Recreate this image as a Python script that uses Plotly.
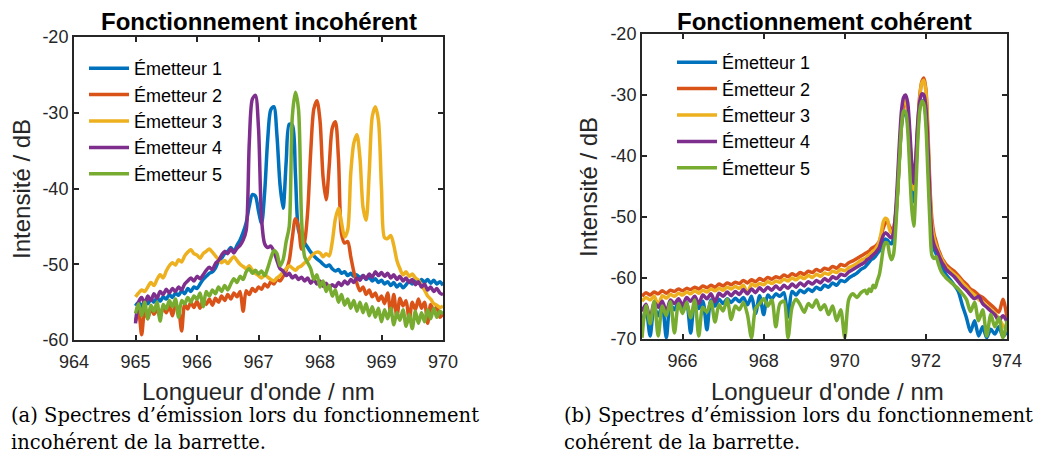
import plotly.graph_objects as go

# ---------------- data: incoherent operation (panel a) ----------------
WL_A = [965.00, 965.05, 965.10, 965.15, 965.20, 965.25, 965.30, 965.35, 965.40, 965.45,
        965.50, 965.55, 965.60, 965.65, 965.70, 965.75, 965.80, 965.85, 965.90, 965.95,
        966.00, 966.05, 966.10, 966.15, 966.20, 966.25, 966.30, 966.35, 966.40, 966.45,
        966.50, 966.55, 966.60, 966.65, 966.70, 966.75, 966.80, 966.85, 966.90, 966.95,
        967.00, 967.05, 967.10, 967.15, 967.20, 967.25, 967.30, 967.35, 967.40, 967.45,
        967.50, 967.55, 967.60, 967.65, 967.70, 967.75, 967.80, 967.85, 967.90, 967.95,
        968.00, 968.05, 968.10, 968.15, 968.20, 968.25, 968.30, 968.35, 968.40, 968.45,
        968.50, 968.55, 968.60, 968.65, 968.70, 968.75, 968.80, 968.85, 968.90, 968.95,
        969.00, 969.05, 969.10, 969.15, 969.20, 969.25, 969.30, 969.35, 969.40, 969.45,
        969.50, 969.55, 969.60, 969.65, 969.70, 969.75, 969.80, 969.85, 969.90, 969.95,
        970.00]

A_E1 = [-55.5, -55.0, -55.6, -54.8, -55.2, -54.6, -55.0, -54.4, -54.9, -54.3,
        -54.6, -54.0, -54.4, -53.8, -54.1, -53.5, -53.9, -53.2, -53.6, -53.0,
        -53.2, -52.6, -52.0, -51.6, -51.2, -51.0, -50.5, -49.6, -49.2, -48.6,
        -48.3, -47.8, -48.3, -47.5, -46.8, -45.8, -44.5, -42.3, -40.8, -41.0,
        -43.0, -44.6, -40.5, -33.5, -29.6, -29.2, -33.0, -39.5, -42.6, -36.5,
        -31.5, -31.6, -38.0, -45.5, -46.5, -47.2, -47.8, -48.4, -48.9, -49.3,
        -49.6, -50.0, -50.3, -50.1, -50.6, -50.9, -50.7, -51.2, -51.0, -51.5,
        -51.2, -51.6, -51.4, -51.8, -51.5, -52.0, -51.7, -52.2, -51.9, -52.4,
        -52.1, -52.6, -52.3, -52.8, -52.4, -53.0, -52.6, -53.1, -52.7, -52.2,
        -52.6, -52.1, -52.5, -52.0, -52.4, -52.0, -52.5, -52.1, -52.6, -52.3,
        -52.8]

A_E2 = [-57.5, -56.2, -59.3, -56.0, -57.2, -55.8, -56.6, -55.9, -57.0, -55.6,
        -56.4, -55.5, -56.8, -55.4, -56.0, -58.8, -55.3, -55.9, -55.0, -55.7,
        -54.9, -55.8, -54.7, -55.3, -54.6, -55.4, -54.5, -55.0, -54.2, -54.8,
        -54.0, -54.6, -53.8, -54.3, -53.6, -56.2, -53.5, -54.0, -53.2, -53.6,
        -53.0, -53.3, -52.6, -53.0, -52.3, -52.6, -52.0, -52.2, -51.6, -50.8,
        -49.5, -46.5, -44.0, -45.0, -48.0, -47.0, -43.0, -35.0, -29.5, -28.4,
        -31.0, -38.5, -41.5, -37.0, -32.0, -31.2, -36.0, -46.0, -47.2, -47.0,
        -49.0, -51.0, -52.5, -53.5, -53.0, -54.0, -53.4, -54.3, -53.8, -54.8,
        -54.2, -55.2, -53.8, -56.5, -54.0, -57.0, -54.5, -55.5, -54.8, -57.5,
        -55.0, -56.0, -54.6, -55.8, -55.0, -57.8, -55.3, -56.2, -55.6, -57.0,
        -56.5]

A_E3 = [-54.3, -53.8, -53.4, -53.6, -53.0, -52.4, -52.8, -52.0, -51.4, -51.8,
        -50.9, -50.2, -49.8, -50.1, -49.4, -49.7, -48.9, -48.4, -48.1, -48.6,
        -48.8, -49.2, -48.6, -48.3, -48.0, -48.4, -48.9, -49.4, -49.8, -49.5,
        -49.9, -49.4, -49.0, -49.5, -50.0, -50.3, -50.6, -50.2, -50.8, -51.2,
        -51.5, -51.8, -51.4, -51.7, -52.0, -52.2, -51.8, -51.5, -51.0, -50.6,
        -50.2, -50.5, -50.8, -50.4, -50.2, -49.8, -49.5, -49.0, -48.6, -48.4,
        -48.5, -49.0, -48.6, -48.9, -47.0, -44.0, -42.6, -44.5, -46.4, -45.5,
        -38.0, -34.0, -32.9, -36.0, -42.5, -44.2, -38.0, -30.5, -29.2, -31.0,
        -40.0, -46.5, -46.6, -46.2, -47.5, -49.5, -50.6, -51.4, -51.0, -51.6,
        -51.3, -51.8, -52.1, -52.8, -53.4, -54.2, -54.6, -55.2, -55.4, -55.7,
        -55.5]

A_E4 = [-57.8, -55.0, -54.4, -55.2, -54.2, -54.8, -53.9, -54.5, -53.6, -54.0,
        -53.3, -53.8, -53.2, -53.6, -53.0, -53.4, -52.6, -52.2, -51.8, -52.2,
        -51.6, -51.9, -51.4, -50.8, -50.4, -50.7, -49.9, -49.5, -48.8, -48.3,
        -48.6, -48.0, -48.5, -47.9, -47.5, -46.8, -45.5, -34.0, -28.2, -27.7,
        -32.0, -44.0, -47.3, -47.8, -47.6, -48.3, -49.5, -50.6, -50.9, -51.5,
        -51.2, -51.8, -51.5, -52.0, -51.7, -52.2, -51.8, -52.5, -52.0, -52.6,
        -52.2, -52.9, -52.5, -53.1, -52.7, -53.0, -52.4, -52.8, -52.2, -52.6,
        -52.0, -52.4, -51.8, -52.1, -51.5, -51.9, -51.3, -51.7, -51.0, -51.5,
        -51.1, -51.6, -51.2, -51.8, -51.4, -52.0, -51.6, -52.2, -51.8, -52.4,
        -52.0, -52.7, -52.3, -53.0, -52.6, -53.4, -53.0, -53.6, -53.2, -53.8,
        -54.0]

A_E5 = [-56.5, -55.2, -56.8, -55.0, -57.2, -55.4, -56.2, -55.0, -57.5, -55.3,
        -55.9, -54.8, -55.6, -54.6, -57.0, -54.8, -55.2, -54.4, -55.0, -54.2,
        -54.6, -53.8, -55.6, -53.6, -54.2, -53.4, -53.9, -53.0, -53.6, -52.8,
        -53.4, -52.6, -51.9, -52.4, -51.6, -52.0, -51.0, -50.6, -51.2, -50.8,
        -51.3, -50.9, -51.5, -50.5, -49.2, -48.2, -48.6, -50.2, -49.4, -47.0,
        -45.0, -30.5, -27.3, -29.5, -44.0, -49.0, -49.8, -50.6, -52.0, -51.4,
        -53.0, -52.2, -53.6, -52.8, -54.2, -53.4, -55.0, -54.0, -55.4, -54.6,
        -55.8, -54.8, -56.2, -55.0, -56.4, -55.2, -56.8, -55.6, -57.0, -55.8,
        -57.6, -56.0, -57.2, -55.8, -58.0, -56.4, -57.4, -56.0, -58.2, -56.6,
        -58.5, -56.2, -57.8, -56.4, -57.6, -56.0, -57.2, -55.8, -57.0, -56.2,
        -56.6]

# ---------------- data: coherent operation (panel b) ----------------
WL_B = [965.0, 965.1, 965.2, 965.3, 965.4, 965.5, 965.6, 965.7, 965.8, 965.9,
        966.0, 966.1, 966.2, 966.3, 966.4, 966.5, 966.6, 966.7, 966.8, 966.9,
        967.0, 967.1, 967.2, 967.3, 967.4, 967.5, 967.6, 967.7, 967.8, 967.9,
        968.0, 968.1, 968.2, 968.3, 968.4, 968.5, 968.6, 968.7, 968.8, 968.9,
        969.0, 969.1, 969.2, 969.3, 969.4, 969.5, 969.6, 969.7, 969.8, 969.9,
        970.0, 970.1, 970.2, 970.3, 970.4,
        970.50, 970.55, 970.60, 970.65, 970.70, 970.75, 970.80, 970.85, 970.90, 970.95,
        971.00, 971.05, 971.10, 971.15, 971.20, 971.25, 971.30, 971.35, 971.40, 971.45,
        971.50, 971.55, 971.60, 971.65, 971.70, 971.75, 971.80, 971.85, 971.90, 971.95,
        972.00, 972.05, 972.10, 972.15, 972.20, 972.25, 972.30, 972.35, 972.40, 972.45,
        972.5, 972.6, 972.7, 972.8, 972.9, 973.0, 973.1, 973.2, 973.3, 973.4,
        973.5, 973.6, 973.7, 973.8, 973.9, 974.0]

B_E1 = [-68.0, -65.0, -69.5, -64.8, -66.2, -64.5, -69.8, -64.4, -65.2, -64.0,
        -65.5, -64.0, -69.0, -64.0, -65.0, -63.8, -68.5, -63.6, -64.6, -63.5,
        -64.2, -63.4, -64.0, -63.3, -63.9, -63.2, -64.4, -63.0, -65.8, -62.9,
        -66.0, -62.8, -63.4, -62.6, -63.0, -62.4, -66.4, -62.2, -62.8, -62.0,
        -62.4, -61.8, -62.2, -61.5, -61.9, -61.2, -61.5, -60.8, -61.2, -60.4,
        -60.6, -60.0, -59.6, -59.2, -58.6,
        -58.2, -57.8, -57.4, -57.0, -56.8, -56.5, -56.0, -55.6, -54.8, -54.0,
        -53.6, -53.8, -54.2, -54.4, -53.6, -51.0, -46.0, -40.0, -35.0, -33.2,
        -33.0, -34.5, -39.5, -45.0, -47.5, -43.0, -36.0, -32.0, -30.9, -31.2,
        -33.5, -40.0, -48.0, -53.5, -55.2, -56.0, -56.8, -57.5, -58.2, -58.8,
        -59.5, -60.3, -61.2, -62.2, -64.5, -66.5, -68.8, -67.0, -69.5, -68.0,
        -69.8, -68.4, -69.2, -68.0, -69.6, -68.8]

B_E2 = [-63.0, -62.4, -62.8, -62.3, -62.6, -62.1, -62.5, -62.0, -62.2, -61.8,
        -62.1, -61.7, -61.9, -61.5, -61.8, -61.3, -61.6, -61.2, -61.5, -61.0,
        -61.3, -60.8, -61.1, -60.7, -60.9, -60.4, -60.8, -60.3, -60.6, -60.1,
        -60.4, -59.9, -60.2, -59.8, -60.0, -59.5, -59.8, -59.3, -59.6, -59.1,
        -59.4, -58.9, -59.1, -58.6, -58.9, -58.4, -58.6, -58.1, -58.4, -57.8,
        -58.0, -57.5, -57.2, -56.8, -56.4,
        -56.0, -55.8, -55.6, -55.2, -55.0, -54.8, -54.5, -54.0, -53.0, -51.8,
        -51.0, -50.8, -51.5, -52.0, -51.8, -50.0, -46.0, -40.0, -34.5, -31.8,
        -31.2, -32.5, -37.0, -42.0, -45.0, -41.0, -35.0, -30.0, -27.8, -27.2,
        -29.0, -36.0, -45.0, -50.5, -52.8, -54.0, -55.2, -56.0, -56.8, -57.3,
        -57.8, -58.4, -58.9, -59.6, -60.4, -61.0, -61.8, -62.2, -62.8, -63.2,
        -63.8, -64.4, -65.0, -65.6, -63.5, -66.5]

B_E3 = [-63.8, -63.2, -63.6, -63.0, -64.5, -62.9, -63.3, -62.7, -63.0, -62.5,
        -62.8, -62.3, -62.6, -62.1, -62.5, -62.0, -62.3, -61.8, -62.1, -61.7,
        -62.0, -61.5, -61.8, -61.4, -61.7, -61.2, -62.6, -61.0, -61.3, -60.9,
        -61.1, -60.6, -60.9, -60.5, -60.7, -60.2, -60.5, -60.0, -60.3, -59.8,
        -60.1, -59.6, -59.9, -59.4, -59.7, -59.2, -59.4, -58.9, -59.1, -58.6,
        -58.8, -58.3, -58.0, -57.6, -57.1,
        -56.8, -56.5, -56.2, -55.9, -55.6, -55.3, -54.8, -54.0, -52.5, -50.8,
        -50.2, -50.4, -52.0, -52.6, -52.2, -50.0, -45.5, -39.0, -33.8, -31.2,
        -31.0, -32.6, -37.5, -42.5, -45.5, -41.5, -35.5, -30.5, -28.0, -27.6,
        -29.5, -37.0, -46.0, -51.5, -53.5, -54.6, -55.6, -56.3, -57.0, -57.6,
        -58.2, -58.8, -59.4, -60.0, -60.8, -61.5, -62.2, -62.8, -63.5, -64.0,
        -64.6, -65.2, -65.8, -66.6, -67.8, -68.5]

B_E4 = [-65.5, -64.3, -66.8, -64.0, -64.8, -63.8, -65.6, -63.6, -64.2, -63.4,
        -64.5, -63.2, -63.8, -63.0, -64.2, -62.8, -63.4, -62.6, -63.9, -62.5,
        -63.0, -62.3, -62.9, -62.2, -62.7, -61.9, -62.6, -61.8, -62.4, -61.6,
        -62.2, -61.5, -62.0, -61.3, -61.9, -61.2, -61.7, -61.0, -61.5, -60.8,
        -61.3, -60.6, -61.0, -60.4, -60.8, -60.1, -60.5, -59.8, -60.1, -59.4,
        -59.6, -59.0, -58.6, -58.2, -57.8,
        -57.4, -57.0, -56.8, -56.5, -56.2, -55.9, -55.5, -55.0, -54.0, -53.0,
        -52.6, -52.8, -53.2, -53.4, -52.6, -49.5, -44.0, -37.5, -32.5, -30.4,
        -30.0, -31.2, -35.5, -41.0, -44.5, -40.5, -34.5, -31.0, -29.8, -30.0,
        -32.0, -38.0, -47.0, -53.0, -54.5, -55.3, -56.0, -56.8, -57.5, -58.0,
        -58.6, -59.2, -59.8, -60.6, -61.4, -62.0, -62.8, -63.4, -63.0, -64.2,
        -64.8, -65.4, -66.0, -67.0, -66.2, -67.2]

B_E5 = [-69.8, -64.5, -67.5, -63.8, -69.5, -64.6, -66.2, -63.9, -69.0, -64.2,
        -65.8, -64.0, -66.5, -63.6, -69.5, -64.8, -65.6, -63.8, -67.2, -64.4,
        -65.4, -63.5, -66.8, -64.6, -65.2, -64.0, -66.0, -69.8, -65.0, -64.2,
        -63.4, -64.6, -63.6, -68.0, -64.2, -63.8, -69.8, -64.8, -63.5, -64.4,
        -65.6, -64.2, -64.8, -63.6, -65.2, -64.4, -66.0, -64.6, -67.0, -65.2,
        -69.8, -63.5, -62.6, -63.2, -62.4,
        -62.0, -62.6, -61.8, -62.2, -61.2, -61.6, -60.5, -59.5, -57.5, -55.2,
        -54.2, -54.3, -56.0, -57.0, -56.2, -52.5, -46.5, -40.5, -35.0, -32.6,
        -32.8, -35.5, -42.0, -48.5, -51.5, -46.0, -37.5, -32.5, -31.0, -31.5,
        -35.0, -43.0, -51.0, -56.3, -56.8, -56.5, -57.5, -58.5, -59.2, -59.6,
        -60.0, -60.6, -61.2, -61.8, -62.6, -63.5, -65.5, -64.0, -67.0, -65.2,
        -69.5, -66.0, -68.0, -66.5, -69.8, -67.0]

NAMES = ["Émetteur 1", "Émetteur 2", "Émetteur 3", "Émetteur 4", "Émetteur 5"]
COLORS = ["#0072BD", "#D95319", "#EDB120", "#7E2F8E", "#77AC30"]

XT_A = [964, 965, 966, 967, 968, 969, 970]
XT_A_TXT = ["964", "965", "966", "967", "968", "969", "970"]
YT_A = [-60, -50, -40, -30, -20]
YT_A_TXT = ["-60", "-50", "-40", "-30", "-20"]
XT_B = [966, 968, 970, 972, 974]
XT_B_TXT = ["966", "968", "970", "972", "974"]
YT_B = [-70, -60, -50, -40, -30, -20]
YT_B_TXT = ["-70", "-60", "-50", "-40", "-30", "-20"]

# the page body adds an 8 px offset; the figure is sized so it ends at the window edge
OFF = 8
W, H = 1058 - OFF, 461 - OFF
SANS = "Liberation Sans, Arial, sans-serif"
SERIF = "DejaVu Serif, serif"
AX = "#262626"


def px(p):
    return (p - OFF) / W


def py(p):
    return 1 - (p - OFF) / H


fig = go.Figure()
for name, col, ys in zip(NAMES, COLORS, [A_E1, A_E2, A_E3, A_E4, A_E5]):
    fig.add_trace(go.Scatter(x=WL_A, y=ys, mode="lines", name=name,
                             line=dict(color=col, width=3.5, shape="spline", smoothing=0.8),
                             xaxis="x", yaxis="y", legend="legend"))
for name, col, ys in zip(NAMES, COLORS, [B_E1, B_E2, B_E3, B_E4, B_E5]):
    fig.add_trace(go.Scatter(x=WL_B, y=ys, mode="lines", name=name,
                             line=dict(color=col, width=3.5, shape="spline", smoothing=0.8),
                             xaxis="x2", yaxis="y2", legend="legend2"))


def ax(domain, rng, tv, tt, anchor, standoff):
    return dict(domain=domain, range=rng, tickvals=tv, ticktext=tt, anchor=anchor,
                ticks="inside", ticklen=5, tickwidth=2, tickcolor=AX,
                showline=True, linecolor=AX, linewidth=2, mirror="ticks",
                showgrid=False, zeroline=False, automargin=False,
                ticklabelstandoff=standoff,
                tickfont=dict(family=SANS, size=18, color=AX))


fig.update_layout(
    width=W, height=H, autosize=False,
    margin=dict(l=0, r=0, t=0, b=0, pad=0),
    paper_bgcolor="white", plot_bgcolor="white",
    xaxis=ax([px(74), px(443)], [964, 970], XT_A, XT_A_TXT, "y", 4),
    yaxis=ax([py(340), py(37)], [-60, -20], YT_A, YT_A_TXT, "x", 0),
    xaxis2=ax([px(642), px(1007)], [965, 974], XT_B, XT_B_TXT, "y2", 4),
    yaxis2=ax([py(339), py(34)], [-70, -20], YT_B, YT_B_TXT, "x2", 0),
    legend=dict(x=px(84), y=py(50), xanchor="left", yanchor="top",
                bgcolor="rgba(0,0,0,0)", borderwidth=0, itemwidth=40,
                font=dict(family=SANS, size=18, color="black")),
    legend2=dict(x=px(672), y=py(44), xanchor="left", yanchor="top",
                 bgcolor="rgba(0,0,0,0)", borderwidth=0, itemwidth=40,
                 font=dict(family=SANS, size=18, color="black")),
    showlegend=True,
)


def note(text, x, y, size, family=SANS, xanchor="center", angle=0, color="black"):
    fig.add_annotation(text=text, x=px(x), y=py(y), xref="paper", yref="paper",
                       xanchor=xanchor, yanchor="middle", showarrow=False,
                       textangle=angle, font=dict(family=family, size=size, color=color))


note("<b>Fonctionnement incohérent</b>", 258.5, 21, 24)
note("<b>Fonctionnement cohérent</b>", 824, 21, 24)
note("Longueur d'onde / nm", 258.5, 391, 24, color=AX)
note("Longueur d'onde / nm", 827.5, 391, 24, color=AX)
note("Intensité / dB", 21, 189, 24, angle=-90, color=AX)
note("Intensité / dB", 588, 187, 24, angle=-90, color=AX)
note("(a) Spectres d’émission lors du fonctionnement", 9, 415, 19.5, SERIF, "left")
note("incohérent de la barrette.", 9, 442, 19.5, SERIF, "left")
note("(b) Spectres d’émission lors du fonctionnement", 562, 415, 19.5, SERIF, "left")
note("cohérent de la barrette.", 562, 442, 19.5, SERIF, "left")

fig.write_html("out.html")
